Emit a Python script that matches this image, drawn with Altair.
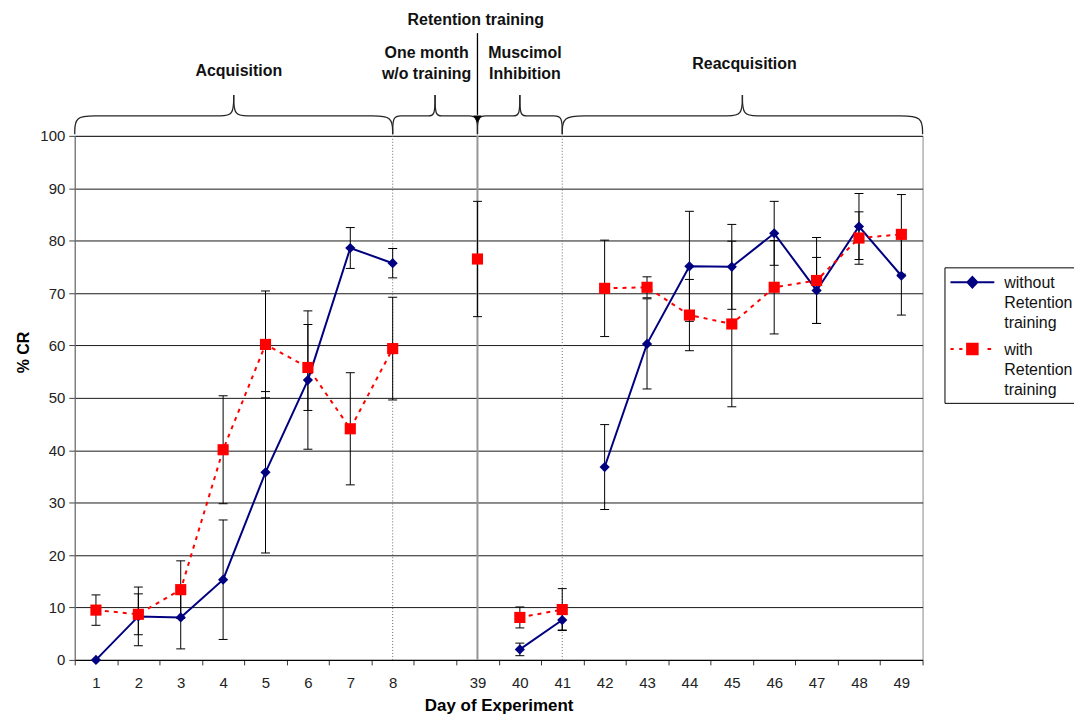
import altair as alt
import pandas as pd

# ---------------- data ----------------
categories = ["1", "2", "3", "4", "5", "6", "7", "8", " ", "39", "40", "41",
              "42", "43", "44", "45", "46", "47", "48", "49"]
phase_of_day = ["Acquisition"] * 8 + ["Gap", "Retention", "Muscimol", "Muscimol"] + ["Reacquisition"] * 8

without_mean = [0.0, 8.3, 8.1, 15.3, 35.8, 53.4, 78.6, 75.7, None, None, 2.0, 7.6,
                36.8, 60.3, 75.1, 75.0, 81.4, 70.5, 82.7, 73.3]
without_err = [None, 5.6, 6.0, 11.4, 15.4, 13.2, 3.9, 2.8, None, None, 1.2, 1.9,
               8.1, 8.6, 10.5, 8.1, 6.1, 6.3, 6.3, 7.5]
with_mean = [9.5, 8.7, 13.4, 40.1, 60.2, 55.8, 44.1, 59.4, None, 76.5, 8.1, 9.6,
             70.9, 71.1, 65.8, 64.1, 71.1, 72.4, 80.5, 81.2]
with_err = [2.9, 3.9, 5.5, 10.3, 10.2, 8.2, 10.7, 9.8, None, 11.0, 2.0, 4.0,
            9.2, 2.0, 6.8, 15.8, 8.9, 8.2, 5.0, 7.6]

series_names = ["without|Retention|training", "with|Retention|training"]
series_colors = ["#000080", "#ff0000"]

N = len(categories)
def center(d):
    return categories.index(d) + 0.5

# phase braces: (start, end) in band units
phase_spans = [
    (0.0, center("8")),
    (center("8"), center("39")),
    (center("39"), center("41")),
    (center("41"), float(N)),
]
# annotation text: (text, x offset from brace middle, y in %CR units)
brace_labels = [
    [("Acquisition", 0.12, 112.4)],
    [("One month", -0.2, 115.8), ("w/o training", -0.2, 111.8)],
    [("Muscimol", 0.12, 115.8), ("Inhibition", 0.12, 111.8)],
    [("Reacquisition", 0.05, 113.7)],
]
retention_label = "Retention training"

# ---------------- tables ----------------
rows = []
for i, d in enumerate(categories):
    for s, means, errs in [(0, without_mean, without_err), (1, with_mean, with_err)]:
        m = means[i]
        if m is None:
            continue
        e = errs[i]
        rows.append(dict(day=d, idx=i, phase=phase_of_day[i], series=series_names[s], value=m,
                         lo=(m - e) if e is not None else None,
                         hi=(m + e) if e is not None else None))
df = pd.DataFrame(rows)
df_err = df.dropna(subset=["lo"])

Y_BASE, Y_FLAT, Y_PEAK = 100.3, 103.8, 107.8
brace_rows, text_rows = [], []
for p, (a, b) in enumerate(phase_spans):
    w = b - a
    m = (a + b) / 2
    r = 0.1 + 0.05 * w
    rp = 0.1 + 0.03 * w
    left = [(a, Y_BASE), (a, Y_FLAT), (a + r, Y_FLAT), (a + 2 * r, Y_FLAT),
            (m - 2 * rp, Y_FLAT), (m - rp, Y_FLAT), (m, Y_FLAT), (m, Y_PEAK)]
    right = [(m, Y_PEAK), (m, Y_FLAT), (m + rp, Y_FLAT), (m + 2 * rp, Y_FLAT),
             (b - 2 * r, Y_FLAT), (b - r, Y_FLAT), (b, Y_FLAT), (b, Y_BASE)]
    for h, pts in enumerate([left, right]):
        for k, (bx, by) in enumerate(pts):
            brace_rows.append(dict(piece=f"{p}-{h}", k=k, bx=bx, by=by))
    for txt, dx, ty in brace_labels[p]:
        text_rows.append(dict(txt=txt, tx=m + dx, ty=ty))
text_rows.append(dict(txt=retention_label, tx=center("39") - 0.04, ty=122.1))
df_brace = pd.DataFrame(brace_rows)
df_text = pd.DataFrame(text_rows)

df_dotted = pd.DataFrame({"pos": [center("8"), center("41")]})
df_solid = pd.DataFrame({"pos": [center("39")]})
df_arrow = pd.DataFrame({"pos": [center("39")], "y1": [119.6], "y2": [104.0], "yh": [103.2]})

# ---------------- encodings ----------------
FONT = "Liberation Sans"
x_axis = alt.Axis(title="Day of Experiment", tickBand="extent", labelAngle=0, grid=False,
                  domainColor="#000000", tickColor="#333333", tickSize=5,
                  labelFont=FONT, labelFontSize=15, labelColor="#222222", labelPadding=11,
                  titleFont=FONT, titleFontSize=17, titleFontWeight="bold", titleColor="#000000",
                  titleBaseline="alphabetic", titleY=51)
x_scale = alt.Scale(type="band", domain=categories, paddingInner=0, paddingOuter=0)
x_main = alt.X("day:O", scale=x_scale, axis=x_axis)
x_enc = alt.X("day:O", scale=x_scale, axis=None)

y_axis = alt.Axis(title="% CR", values=list(range(0, 101, 10)), grid=True, gridColor="#1a1a1a",
                  gridWidth=1, domainColor="#707070", tickColor="#404040", tickSize=6,
                  labelFont=FONT, labelFontSize=15, labelColor="#222222", labelPadding=4,
                  titleFont=FONT, titleFontSize=16, titleFontWeight="bold", titleColor="#000000",
                  titleX=-51, titleY=217, titleAlign="center", titleBaseline="middle")

def y_enc(field):
    return alt.Y(f"{field}:Q", scale=alt.Scale(domain=[0, 100], nice=False, zero=True), axis=y_axis)

ann_scale = alt.Scale(domain=[0, N], nice=False, zero=False)
x_ann = alt.X("pos:Q", scale=ann_scale, axis=None)

# ---------------- annotation layers ----------------
dotted = alt.Chart(df_dotted).mark_rule(color="#6a6a6a", strokeWidth=1, strokeDash=[1, 2]).encode(x=x_ann)
solid = alt.Chart(df_solid).mark_rule(color="#969696", strokeWidth=2).encode(x=x_ann)
braces = alt.Chart(df_brace).mark_line(interpolate="basis", color="#262626", strokeWidth=1.3).encode(
    x=alt.X("bx:Q", scale=ann_scale, axis=None),
    y=y_enc("by"), detail="piece:N", order="k:Q")
arrow = alt.Chart(df_arrow).mark_rule(color="#000000", strokeWidth=1.3).encode(
    x=x_ann, y=y_enc("y1"), y2="y2:Q")
arrow_head = alt.Chart(df_arrow).mark_point(shape="triangle-down", filled=True, size=70,
                                            color="#000000", opacity=1).encode(x=x_ann, y=y_enc("yh"))
texts = alt.Chart(df_text).mark_text(font=FONT, fontSize=16, fontWeight="bold", color="#111111",
                                      align="center", baseline="middle").encode(
    x=alt.X("tx:Q", scale=ann_scale, axis=None),
    y=y_enc("ty"), text="txt:N")

# ---------------- data layers ----------------
err_rule = alt.Chart(df_err).mark_rule(color="#000000", strokeWidth=1).encode(x=x_enc, y=y_enc("lo"), y2="hi:Q")
cap_lo = alt.Chart(df_err).mark_tick(color="#000000", thickness=1, size=9, opacity=1).encode(x=x_enc, y=y_enc("lo"))
cap_hi = alt.Chart(df_err).mark_tick(color="#000000", thickness=1, size=9, opacity=1).encode(x=x_enc, y=y_enc("hi"))

blue = alt.Chart(df).transform_filter(alt.datum.series == series_names[0])
red = alt.Chart(df).transform_filter(alt.datum.series == series_names[1])

blue_line = blue.mark_line(color=series_colors[0], strokeWidth=2).encode(
    x=x_main, y=y_enc("value"), detail="phase:N", order="idx:Q")
blue_pts = blue.mark_point(shape="diamond", filled=True, size=105, color=series_colors[0], opacity=1).encode(
    x=x_enc, y=y_enc("value"))
red_line = red.mark_line(color=series_colors[1], strokeWidth=2, strokeDash=[4, 5]).encode(
    x=x_enc, y=y_enc("value"), detail="phase:N", order="idx:Q")
red_pts = red.mark_point(shape="square", filled=True, size=125, color=series_colors[1], opacity=1).encode(
    x=x_enc, y=y_enc("value"))

# ---------------- legend (from scales only) ----------------
blue_sym = "M-2.75,-0.75H2.75M-0.62,-0.75L0,-1.42L0.62,-0.75L0,-0.08Z"
red_sym = ("M-2.75,-0.75H-2.35M-1.65,-0.75H-1.25M-0.66,-1.41H0.66V-0.09H-0.66Z"
           "M1.9,-0.75H2.35")
leg = alt.Legend(title=" ", titleFontSize=1, titlePadding=6,
                 orient="none", legendX=873, legendY=132, fillColor="white",
                 strokeColor="#000000", padding=5, symbolSize=256, symbolStrokeWidth=2,
                 symbolOffset=14,
                 labelFont=FONT, labelFontSize=16, labelColor="#111111", labelLimit=300,
                 labelOffset=23, labelBaseline="alphabetic", labelExpr="split(datum.label, '|')",
                 rowPadding=8)
legend_layer = alt.Chart(pd.DataFrame({"series": series_names})).transform_filter("false").mark_point(
    filled=True, strokeWidth=2, opacity=1).encode(
    shape=alt.Shape("series:N", scale=alt.Scale(domain=series_names, range=[blue_sym, red_sym]), legend=leg),
    fill=alt.Fill("series:N", scale=alt.Scale(domain=series_names, range=series_colors), legend=leg),
    stroke=alt.Stroke("series:N", scale=alt.Scale(domain=series_names, range=series_colors), legend=leg),
)

chart = alt.layer(
    dotted, solid, err_rule, cap_lo, cap_hi,
    blue_line, blue_pts, red_line, red_pts,
    braces, arrow, arrow_head, texts, legend_layer,
).resolve_scale(x="independent").properties(
    width=851, height=526,
    autosize=alt.AutoSizeParams(type="none"),
    padding={"left": 67, "top": 127, "right": 152, "bottom": 55},
    background="white",
).configure(
    font=FONT,
    style={"guide-label": {"lineHeight": 20}},
).configure_view(fill="#c0c0c0", stroke="#8a8a8a", strokeWidth=1)

chart.save("out.html", embed_options={"renderer": "svg", "actions": False})
